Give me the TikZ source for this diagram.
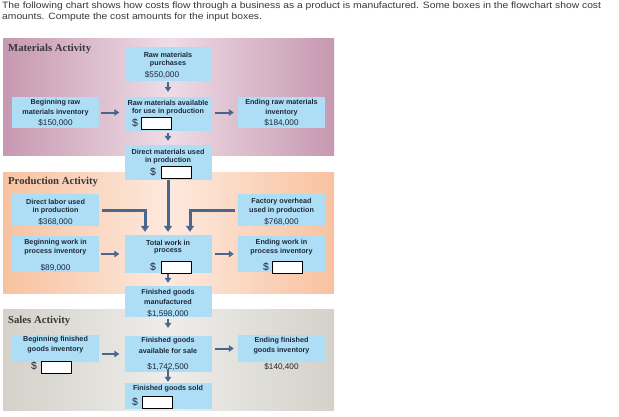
\documentclass[tikz,border=0pt]{standalone}
\usepackage{fontspec}
\setmainfont{Liberation Sans}
\newfontfamily\panelfont{Liberation Serif}
\newfontfamily\headfont[FakeStretch=1.12]{Liberation Sans}
\usetikzlibrary{arrows.meta}
\definecolor{boxblue}{RGB}{174,222,245}
\definecolor{txt}{RGB}{30,40,55}
\definecolor{arrowc}{RGB}{72,102,142}
\definecolor{pinkout}{RGB}{199,152,177}
\definecolor{pinkin}{RGB}{238,220,229}
\definecolor{peachout}{RGB}{248,194,160}
\definecolor{peachin}{RGB}{253,233,222}
\definecolor{grayout}{RGB}{212,209,202}
\definecolor{grayin}{RGB}{238,237,234}
\definecolor{titlec}{RGB}{55,55,55}
\begin{document}
\begin{tikzpicture}[x=1pt,y=-1pt,
  bluebox/.style={fill=boxblue, minimum width=87pt, inner sep=0pt, draw=none},
  lbl/.style={font=\fontsize{7.2}{8}\selectfont\bfseries, text=txt, inner sep=0pt},
  amt/.style={font=\fontsize{8.2}{9}\selectfont, text=txt, inner sep=0pt},
  dollar/.style={font=\fontsize{10.5}{11}\selectfont, text=txt, inner sep=0pt},
  blank/.style={draw=black, line width=0.8pt, fill=white, minimum width=30pt, minimum height=12pt, inner sep=0pt},
  arr/.style={draw=arrowc, line width=2pt, -{Triangle[length=5pt,width=6.5pt]}},
  feed/.style={draw=arrowc, line width=3pt, -{Triangle[length=6pt,width=8pt]}},
  ptitle/.style={font=\panelfont\bfseries\fontsize{10.7}{12}\selectfont, text=titlec, anchor=west, inner sep=0pt},
  head/.style={font=\headfont\fontsize{9.2}{10}\selectfont, text=titlec, anchor=west, inner sep=0pt}]
\useasboundingbox (0,0) rectangle (619,416);
% title
\node[head] (t1) at (2,5.8) {The following chart shows how costs flow through a business as a product is manufactured. Some boxes in the flowchart show cost};
\node[head] (t2) at (2,17.3) {amounts. Compute the cost amounts for the input boxes.};
% panels
\fill[left color=pinkout, right color=pinkout, middle color=pinkin] (3,38) rectangle (334,155);
\fill[left color=peachout, right color=peachout, middle color=peachin] (3,172) rectangle (334,293);
\fill[left color=grayout, right color=grayout, middle color=grayin] (3,309) rectangle (334,410);
\node[ptitle] (pm) at (8,49) {Materials Activity};
\node[ptitle] (pp) at (8,182) {Production Activity};
\node[ptitle] (ps) at (8,321) {Sales Activity};
% materials
\node[bluebox, minimum height=34pt] (rmp) at (168,64) {};
\node[bluebox, minimum height=31pt] (brm) at (55.5,112.5) {};
\node[bluebox, minimum height=34pt] (rma) at (168,114) {};
\node[bluebox, minimum height=31pt] (erm) at (281.5,112.5) {};
\node[bluebox, minimum height=35pt] (dmu) at (168,162.5) {};
\node[lbl] (rmp1) at (168,55) {Raw materials};
\node[lbl] (rmp2) at (168,64) {purchases};
\node[amt] (rmp3) at (162,75) {\$550,000};
\node[lbl] (brm1) at (55.5,103) {Beginning raw};
\node[lbl] (brm2) at (55.5,112.5) {materials inventory};
\node[amt] (brm3) at (55.5,123) {\$150,000};
\node[lbl] (rma1) at (168,103) {Raw materials available};
\node[lbl] (rma2) at (168,112) {for use in production};
\node[dollar] (rma3) at (135,122.5) {\$};
\node[blank] (rmab) at (156.5,123) {};
\node[lbl] (erm1) at (281.5,103) {Ending raw materials};
\node[lbl] (erm2) at (281.5,112.5) {inventory};
\node[amt] (erm3) at (281.5,123) {\$184,000};
\node[lbl] (dmu1) at (168,151.5) {Direct materials used};
\node[lbl] (dmu2) at (168,160.5) {in production};
\node[dollar] (dmu3) at (153,172) {\$};
\node[blank] (dmub) at (176,172.5) {};
\draw[arr, shorten <=1pt, shorten >=5pt] (rmp) -- (rma);
\draw[arr, shorten <=2pt, shorten >=5pt] (brm) -- (brm -| rma.west);
\draw[arr, shorten <=3pt, shorten >=4pt] (rma.east |- erm.west) -- (erm.west);
\draw[arr, shorten <=2pt, shorten >=4pt] (rma) -- (dmu);
% production
\node[bluebox, minimum height=32pt] (dlu) at (55.5,210) {};
\node[bluebox, minimum height=32pt] (foh) at (281.5,210) {};
\node[bluebox, minimum height=36pt] (bwip) at (55.5,254) {};
\node[bluebox, minimum height=38pt] (twip) at (168,254) {};
\node[bluebox, minimum height=36pt] (ewip) at (281.5,254) {};
\node[bluebox, minimum height=31pt] (fgm) at (168,301.5) {};
\node[lbl] (dlu1) at (55.5,202) {Direct labor used};
\node[lbl] (dlu2) at (55.5,211) {in production};
\node[amt] (dlu3) at (55.5,222) {\$368,000};
\node[lbl] (foh1) at (281.5,202) {Factory overhead};
\node[lbl] (foh2) at (281.5,211) {used in production};
\node[amt] (foh3) at (281.5,222) {\$768,000};
\node[lbl] (bwip1) at (55.5,243) {Beginning work in};
\node[lbl] (bwip2) at (55.5,251.5) {process inventory};
\node[amt] (bwip3) at (55.5,268) {\$89,000};
\node[lbl] (twip1) at (168,243) {Total work in};
\node[lbl] (twip2) at (168,251.5) {process};
\node[dollar] (twip3) at (153,267) {\$};
\node[blank] (twipb) at (176,267.5) {};
\node[lbl] (ewip1) at (281.5,243) {Ending work in};
\node[lbl] (ewip2) at (281.5,251.5) {process inventory};
\node[dollar] (ewip3) at (266,267) {\$};
\node[blank] (ewipb) at (287,267.5) {};
\node[lbl] (fgm1) at (168,292.5) {Finished goods};
\node[lbl] (fgm2) at (168,301.5) {manufactured};
\node[amt] (fgm3) at (168,314) {\$1,598,000};
\draw[feed] ([xshift=3pt]dlu.east) -| ([xshift=-23pt,yshift=3pt]twip.north);
\draw[feed] (dmu.south) -- ([yshift=3pt]twip.north);
\draw[feed] ([xshift=-3pt]foh.west) -| ([xshift=22pt,yshift=3pt]twip.north);
\draw[arr, shorten <=2pt, shorten >=5pt] (bwip.east) -- (bwip.east -| twip.west);
\draw[arr, shorten <=3pt, shorten >=4pt] (twip.east |- ewip.east) -- (ewip.west);
\draw[arr, shorten <=1pt, shorten >=3pt] (twip) -- (fgm);
% sales
\node[bluebox, minimum height=27pt] (bfg) at (55.5,348.5) {};
\node[bluebox, minimum height=36pt] (fga) at (168,354) {};
\node[bluebox, minimum height=27pt] (efg) at (281.5,348.5) {};
\node[bluebox, minimum height=26pt] (fgs) at (168,396) {};
\node[lbl] (bfg1) at (55.5,340) {Beginning finished};
\node[lbl] (bfg2) at (55.5,350) {goods inventory};
\node[dollar] (bfg3) at (34,366) {\$};
\node[blank] (bfgb) at (56.5,367) {};
\node[lbl] (fga1) at (168,341) {Finished goods};
\node[lbl] (fga2) at (168,351) {available for sale};
\node[amt] (fga3) at (168,367) {\$1,742,500};
\node[lbl] (efg1) at (281.5,341) {Ending finished};
\node[lbl] (efg2) at (281.5,351) {goods inventory};
\node[amt] (efg3) at (281.5,367) {\$140,400};
\node[lbl] (fgs1) at (168,389) {Finished goods sold};
\node[dollar] (fgs3) at (135,402) {\$};
\node[blank] (fgsb) at (157,402.5) {};
\draw[arr, shorten <=2pt, shorten >=8pt] (fgm) -- (fga);
\draw[arr, shorten <=3pt, shorten >=5pt] (bfg.east |- fga.west) -- (fga.west);
\draw[arr, shorten <=3pt, shorten >=4pt] (fga.east |- efg.west) -- (efg.west);
\draw[arr, shorten <=-3pt, shorten >=1pt] (fga) -- (fgs);
\end{tikzpicture}
\end{document}
